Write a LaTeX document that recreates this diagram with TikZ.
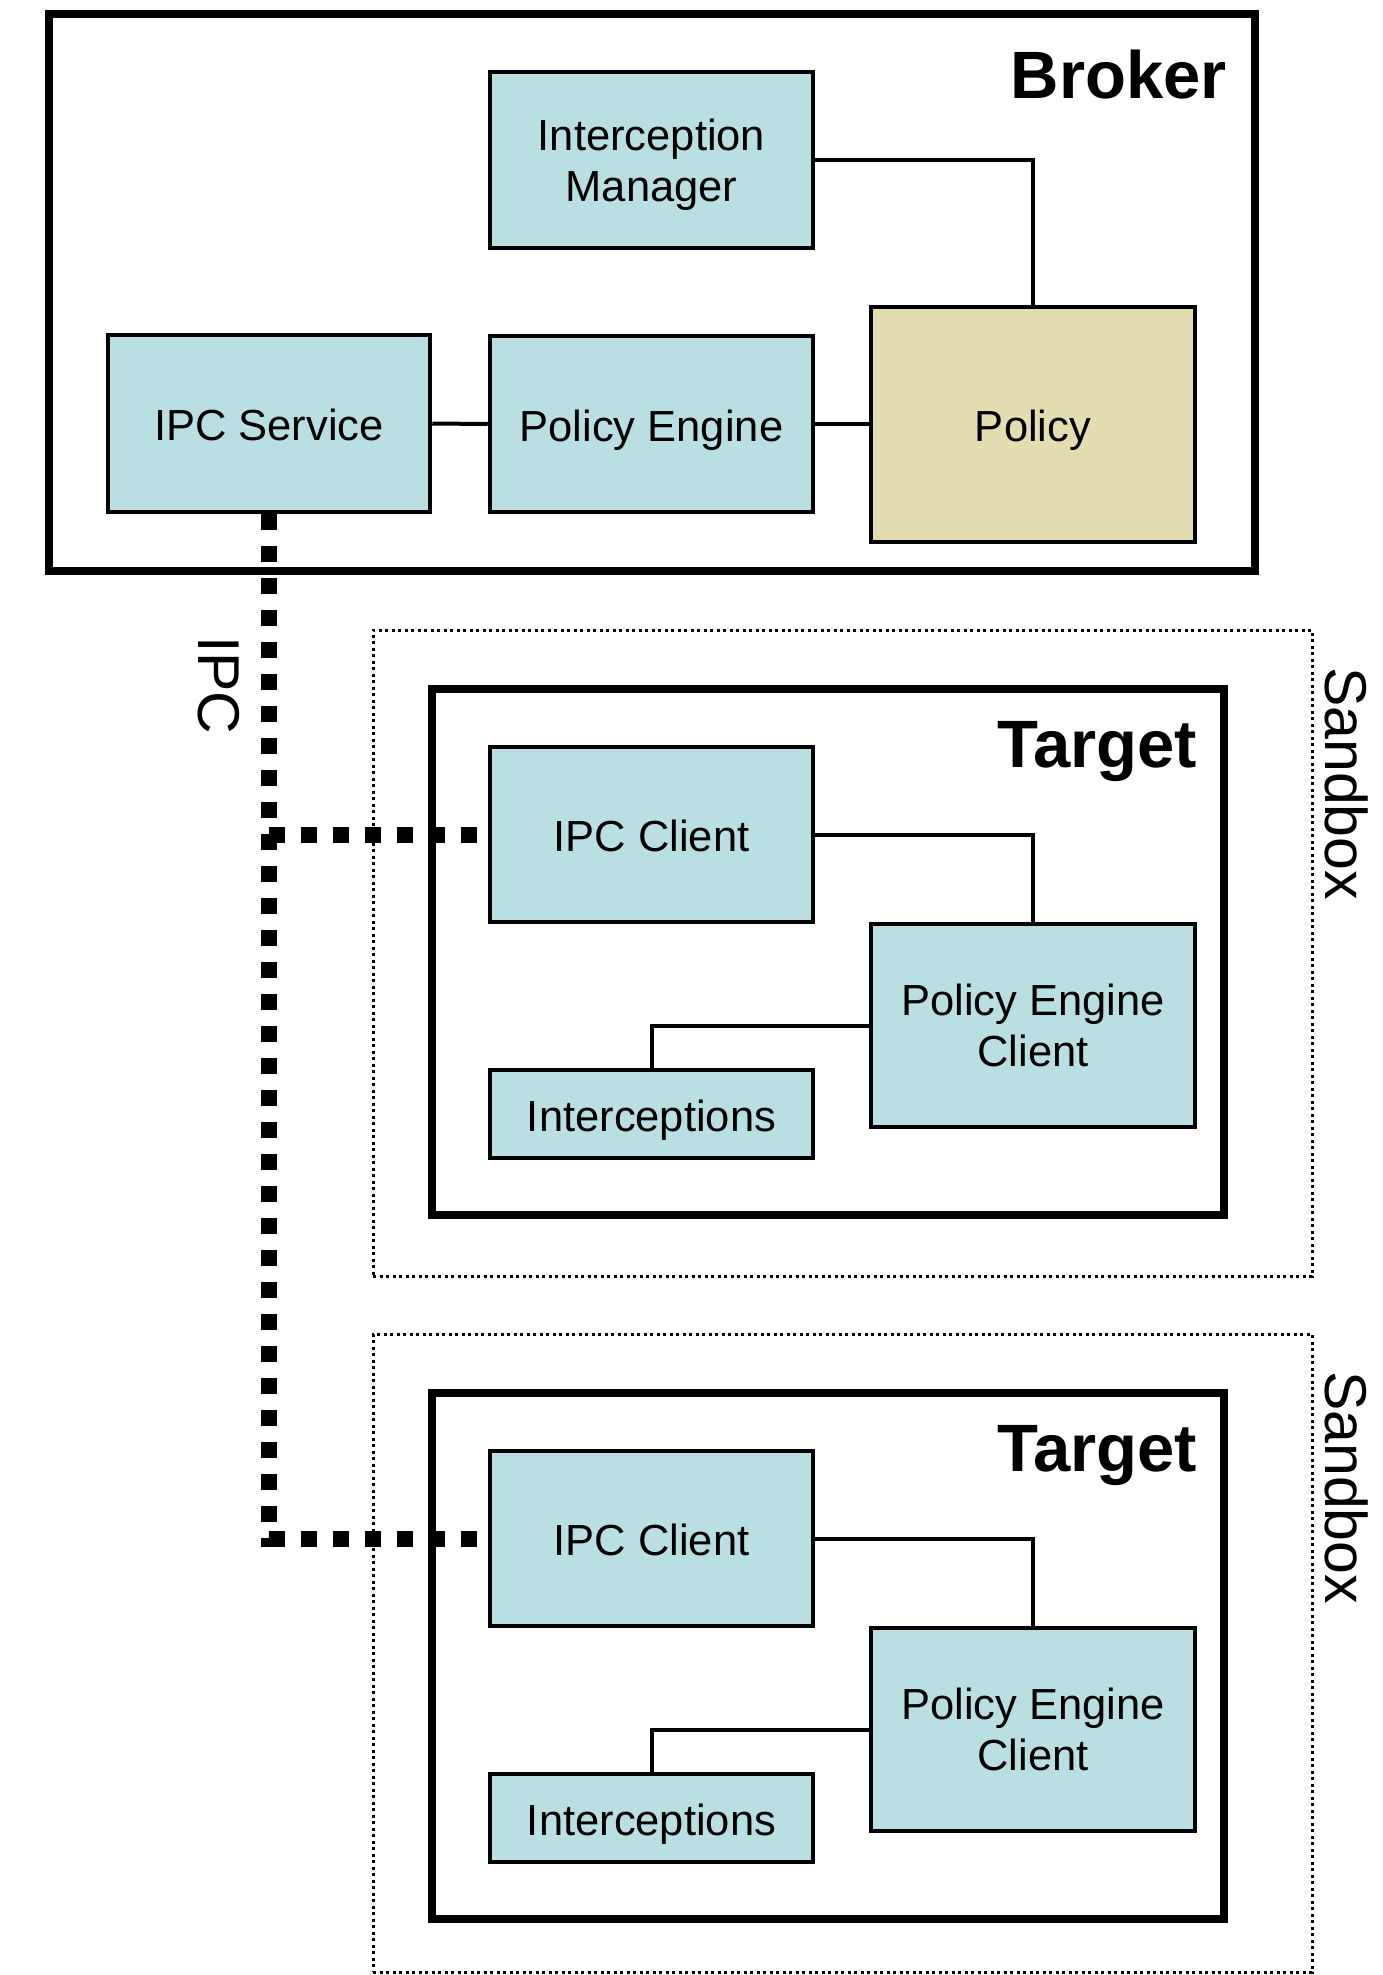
\documentclass[tikz,border=0pt]{standalone}
\usepackage{fontspec}
\setmainfont{Liberation Sans}
\usetikzlibrary{calc}
\definecolor{boxblue}{RGB}{185,223,226}
\definecolor{polfill}{RGB}{228,221,178}
\newcommand\lblfont{\fontsize{43.5}{51.5}\selectfont}
\newcommand\ttlfont{\fontsize{67}{75}\selectfont\bfseries}
\newcommand\sidefont{\fontsize{59}{68}\selectfont}
\begin{document}
\begin{tikzpicture}[x=1pt,y=-1pt,
  comp/.style={rectangle, draw=black, line width=4.5pt, fill=boxblue, inner sep=0pt, align=center, font=\lblfont},
  oneline/.style={text height=34pt, text depth=0pt},
  cont/.style={rectangle, draw=black, line width=8pt, inner sep=0pt},
  sbx/.style={rectangle, draw=black, line width=3pt, dash pattern=on 3pt off 3.5pt, inner sep=0pt},
  link/.style={draw=black, line width=4pt},
  ipcline/.style={draw=black, line width=16pt, dash pattern=on 16pt off 16pt},
  title/.style={font=\ttlfont, anchor=base east, inner sep=0pt},
  side/.style={font=\sidefont, rotate=-90, anchor=base west, inner sep=0pt}]
\useasboundingbox (0,0) rectangle (1382,1975);

% Broker
\node[cont, minimum width=1206pt, minimum height=557pt] (broker) at (652,292.5) {};
\node[title] (brokerlbl) at (1227,98) {Broker};
\node[comp, minimum width=323pt, minimum height=176pt] (im) at (651.5,160) {Interception\\\smash{Manager}};
\node[comp, oneline, minimum width=322pt, minimum height=177pt] (ipcs) at (269,423.5) {IPC Service};
\node[comp, oneline, minimum width=323pt, minimum height=176pt] (pe) at (651.5,424) {Policy Engine};
\node[comp, oneline, fill=polfill, minimum width=324pt, minimum height=235pt] (pol) at (1033,424.5) {Policy};
\draw[link] (im.east) -| (pol.north);
\draw[link] (ipcs.east) -- (pe.west);
\draw[link] (pe.east) -- (pe.east -| pol.west);

% Sandboxes with targets
\foreach \i/\dy/\sh in {1/0/646,2/704/638}{
  \node[sbx, minimum width=939pt, minimum height=\sh] (sb\i) at (842.5,{630+\dy+\sh/2}) {};
  \node[side] (sblbl\i) at (1325,{667+\dy}) {Sandbox};
  \node[cont, minimum width=792pt, minimum height=526pt] (tg\i) at (828,{952+\dy}) {};
  \node[title] (tglbl\i) at (1197,{767+\dy}) {Target};
  \node[comp, oneline, minimum width=323pt, minimum height=175pt] (ipcc\i) at (651.5,{834.5+\dy}) {IPC Client};
  \node[comp, minimum width=324pt, minimum height=203pt] (pec\i) at (1033,{1025.5+\dy}) {Policy Engine\\Client};
  \node[comp, oneline, minimum width=323pt, minimum height=88pt] (int\i) at (651.5,{1114+\dy}) {Interceptions};
  \draw[link] (ipcc\i.east) -| (pec\i.north);
  \draw[link] (pec\i.west) -| (int\i.north);
}

% IPC
\node[side] (ipclbl) at (198,636) {IPC};
\coordinate (j1) at (ipcs.south |- ipcc1.west);
\draw[ipcline] (ipcs.south) |- (ipcc2.west);
\draw[ipcline] (j1) -- (ipcc1.west);
\end{tikzpicture}
\end{document}
